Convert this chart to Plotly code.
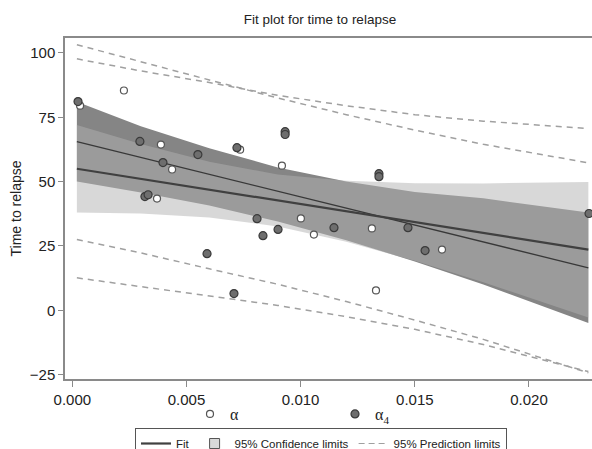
import plotly.graph_objects as go

# ---- data ----
alpha_x = [0.00034, 0.00226, 0.00371, 0.00388, 0.00437, 0.00735, 0.00918, 0.01001,
           0.01058, 0.01312, 0.01330, 0.01619]
alpha_y = [79.5, 85.4, 43.4, 64.4, 54.7, 62.4, 56.2, 35.7, 29.4, 31.8, 7.7, 23.6]

alpha4_x = [0.00025, 0.00296, 0.00318, 0.00332, 0.00397, 0.00550, 0.00590, 0.00708,
            0.00721, 0.00809, 0.00835, 0.00901, 0.00932, 0.00932, 0.01146, 0.01343,
            0.01343, 0.01470, 0.01545, 0.02263]
alpha4_y = [81.1, 65.6, 44.2, 44.9, 57.4, 60.5, 22.0, 6.5, 63.2, 35.6, 29.0, 31.4,
            69.4, 68.3, 32.1, 53.1, 51.9, 32.1, 23.2, 37.6]

fit_x = [0.0002, 0.0226]
fitA_y = [65.5, 16.5]   # thin, steeper fit
fitB_y = [55.0, 23.6]   # thick, flatter fit

band_x = [0.0002, 0.003, 0.006, 0.009, 0.012, 0.015, 0.018, 0.0226]
ciA_hi = [81.0, 71.5, 63.0, 55.5, 50.0, 46.0, 43.5, 38.0]
ciA_lo = [50.0, 45.8, 40.7, 34.5, 27.2, 19.0, 10.0, -4.9]
ciB_hi = [72.0, 64.6, 57.7, 52.8, 50.3, 49.4, 49.3, 49.8]
ciB_lo = [38.0, 37.6, 36.1, 32.6, 26.6, 19.2, 10.9, -2.8]
piA_hi = [103.2, 96.5, 89.5, 82.5, 76.0, 70.0, 64.5, 57.3]
piA_lo = [27.5, 22.3, 16.1, 10.1, 3.4, -3.8, -11.3, -24.3]
piB_hi = [97.7, 93.0, 88.5, 83.5, 79.5, 76.0, 73.5, 70.6]
piB_lo = [12.6, 9.2, 5.3, 1.9, -2.5, -7.4, -13.3, -23.8]

x_ticks = [0.0, 0.005, 0.010, 0.015, 0.020]
y_ticks = [-25, 0, 25, 50, 75, 100]

SANS = "Liberation Sans, Arial, sans-serif"
fig = go.Figure()

# confidence bands
fig.add_trace(go.Scatter(x=band_x + band_x[::-1], y=ciA_hi + ciA_lo[::-1],
                         fill="toself", fillcolor="#858585", line=dict(width=0),
                         mode="lines", showlegend=False, hoverinfo="skip"))
fig.add_trace(go.Scatter(x=band_x + band_x[::-1], y=ciB_hi + ciB_lo[::-1],
                         fill="toself", fillcolor="rgba(178,178,178,0.5)", line=dict(width=0),
                         mode="lines", showlegend=False, hoverinfo="skip"))

# fit lines
fig.add_trace(go.Scatter(x=fit_x, y=fitA_y, mode="lines",
                         line=dict(color="#383838", width=1.3), showlegend=False))
fig.add_trace(go.Scatter(x=fit_x, y=fitB_y, mode="lines",
                         line=dict(color="#404040", width=2.2), showlegend=False))

# prediction limits
for ys in (piA_hi, piA_lo, piB_hi, piB_lo):
    fig.add_trace(go.Scatter(x=band_x, y=ys, mode="lines",
                             line=dict(color="#a0a0a0", width=1.5, dash="6px,5px"),
                             showlegend=False, hoverinfo="skip"))

# points
fig.add_trace(go.Scatter(x=alpha_x, y=alpha_y, mode="markers", name="α",
                         marker=dict(symbol="circle", size=7, color="white",
                                     line=dict(color="#555555", width=1.2)),
                         legend="legend"))
fig.add_trace(go.Scatter(x=alpha4_x, y=alpha4_y, mode="markers", name="α<sub>4</sub>",
                         marker=dict(symbol="circle", size=8, color="#6e6e6e",
                                     line=dict(color="#3a3a3a", width=1.2)),
                         legend="legend"))

# legend-only entries for the boxed legend
fig.add_trace(go.Scatter(x=[None], y=[None], mode="lines", name="Fit",
                         line=dict(color="#404040", width=2.2), legend="legend2"))
fig.add_trace(go.Scatter(x=[None], y=[None], mode="markers", name="95% Confidence limits",
                         marker=dict(symbol="square", size=10, color="#d9d9d9",
                                     line=dict(color="#555555", width=1)),
                         legend="legend2"))
fig.add_trace(go.Scatter(x=[None], y=[None], mode="lines", name="95% Prediction limits",
                         line=dict(color="#a0a0a0", width=1.2, dash="6px,4px"),
                         legend="legend2"))

fig.update_layout(
    width=592, height=449,
    margin=dict(l=65, r=0, t=38, b=70, autoexpand=False),
    plot_bgcolor="white", paper_bgcolor="white",
    font=dict(family=SANS, color="#222222"),
    title=dict(text="Fit plot for time to relapse", x=320 / 592, xanchor="center",
               y=1 - 19 / 449, yanchor="middle", font=dict(size=13.5, family=SANS)),
    xaxis=dict(range=[-0.00032, 0.02276], tickvals=x_ticks, tickformat=".3f",
               showline=True, linecolor="#8a8a8a", linewidth=1.5, mirror=True,
               ticks="outside", ticklen=6, tickcolor="#8a8a8a", tickwidth=1,
               showgrid=False, zeroline=False, tickfont=dict(size=15)),
    yaxis=dict(range=[-26.7, 105.8], tickvals=y_ticks,
               showline=True, linecolor="#8a8a8a", linewidth=1.5,
               ticks="outside", ticklen=5, tickcolor="#8a8a8a", tickwidth=1,
               showgrid=False, zeroline=False, tickfont=dict(size=15),
               title=dict(text="Time to relapse", font=dict(size=14), standoff=5)),
    legend=dict(orientation="h", x=(190 - 65) / 527, y=(379 - 397) / 341,
                xanchor="left", yanchor="top", bgcolor="rgba(0,0,0,0)",
                entrywidth=100, entrywidthmode="pixels",
                font=dict(family="Liberation Serif, DejaVu Serif, serif", size=16)),
    legend2=dict(orientation="h", x=(135 - 65) / 527, y=(379 - 428) / 341,
                 xanchor="left", yanchor="top", bgcolor="white",
                 bordercolor="#555555", borderwidth=1,
                 font=dict(family=SANS, size=11.5), tracegroupgap=0,
                 itemwidth=30),
)

fig.write_html("out.html")
